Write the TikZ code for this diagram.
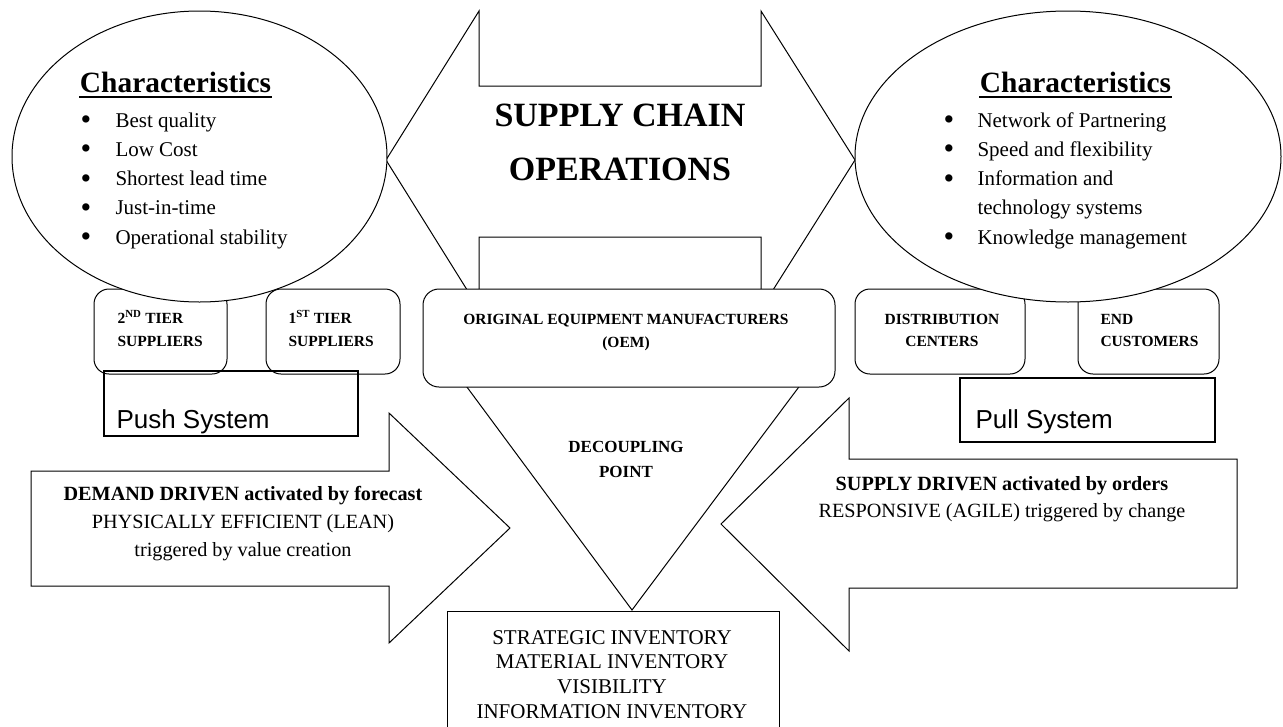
\documentclass[tikz,border=0pt]{standalone}
\usepackage{fontspec}
\setmainfont{Liberation Serif}
\newfontfamily\arialfont{Liberation Sans}
\usetikzlibrary{shapes.geometric}
\newcommand{\mybul}{\raisebox{-2.6pt}{\scalebox{1.45}{\textbullet}}}
\begin{document}
\begin{tikzpicture}[x=1pt,y=-1pt,
  line width=1pt,
  shapefill/.style={draw, fill=white, line join=miter},
  rbox/.style={draw, fill=white, rounded corners=15pt, inner sep=0pt, minimum height=85pt},
  sysbox/.style={draw, line width=2.8pt, inner sep=0pt},
  oval/.style={draw, fill=white, ellipse, inner sep=0pt, minimum height=291pt},
  txt/.style={inner sep=0pt, anchor=base},
  txtl/.style={inner sep=0pt, anchor=base west},
  uline/.style={line width=2pt},
  ]
\useasboundingbox (0,0) rectangle (1283,726);
\clip (0,0) rectangle (1283,726);

% top double arrow
\draw[shapefill] (386,160) -- (479,11) -- (479,86) -- (761,86) -- (761,11) -- (855,160)
  -- (761,309) -- (761,237) -- (479,237) -- (479,309) -- cycle;
% decoupling triangle
\draw[shapefill] (441,352) -- (825,352) -- (632,610) -- cycle;
% left (push) arrow
\draw[shapefill] (31,471) -- (389,471) -- (389,413) -- (510,528) -- (389,643) -- (389,586) -- (31,586) -- cycle;
% right (pull) arrow
\draw[shapefill] (1237,459) -- (849,459) -- (849,398) -- (721,524) -- (849,651) -- (849,588) -- (1237,588) -- cycle;

% small boxes
\node[rbox, minimum width=133pt] (t2) at (160.5,331.5) {};
\node[rbox, minimum width=134pt] (t1) at (333,331.5) {};
\node[rbox, minimum width=170pt] (dc) at (940,331.5) {};
\node[rbox, minimum width=141pt] (ec) at (1148.5,331.5) {};

% ellipses
\node[oval, minimum width=375pt] (le) at (199.5,156.5) {};
\node[oval, minimum width=426pt] (re) at (1068,156.5) {};

% OEM box
\node[rbox, rounded corners=16pt, minimum width=412pt, minimum height=98pt] (oem) at (629,338) {};

% push / pull boxes
\node[sysbox, minimum width=254pt, minimum height=65pt] (push) at (231,403.5) {};
\node[sysbox, minimum width=255pt, minimum height=64pt] (pull) at (1087.5,410) {};

% inventory box
\node[draw, fill=white, inner sep=0pt, minimum width=332pt, minimum height=149pt] (inv) at (613,685.5) {};

% texts
\node[txt, font=\bfseries\fontsize{29.4}{35}\selectfont] (lh) at (175.5,92) {Characteristics};
\node[txt, font=\bfseries\fontsize{29.4}{35}\selectfont] (rh) at (1075.5,92) {Characteristics};
\draw[uline] ([yshift=-5pt]lh.base west) -- ([yshift=-5pt]lh.base east);
\draw[uline] ([yshift=-5pt]rh.base west) -- ([yshift=-5pt]rh.base east);

\node[txtl, font=\fontsize{21}{29.25}\selectfont] (ll) at (80,127) {\begin{tabular}[t]{@{}l@{}l@{}}
\makebox[35pt][l]{\mybul} & Best quality\\
\makebox[35pt][l]{\mybul} & Low Cost\\
\makebox[35pt][l]{\mybul} & Shortest lead time\\
\makebox[35pt][l]{\mybul} & Just-in-time\\
\makebox[35pt][l]{\mybul} & Operational stability
\end{tabular}};
\node[txtl, font=\fontsize{21}{29.25}\selectfont] (rl) at (943,127) {\begin{tabular}[t]{@{}l@{}l@{}}
\makebox[34pt][l]{\mybul} & Network of Partnering\\
\makebox[34pt][l]{\mybul} & Speed and flexibility\\
\makebox[34pt][l]{\mybul} & Information and\\
 & technology systems\\
\makebox[34pt][l]{\mybul} & Knowledge management
\end{tabular}};

\node[txt, font=\bfseries\fontsize{34}{54}\selectfont] (sc) at (620,126) {\begin{tabular}[t]{@{}c@{}}SUPPLY CHAIN\\OPERATIONS\end{tabular}};

\node[txt, font=\bfseries\fontsize{15.5}{23}\selectfont] (oemt) at (626,324) {\begin{tabular}[t]{@{}c@{}}ORIGINAL EQUIPMENT MANUFACTURERS\\(OEM)\end{tabular}};
\node[txtl, font=\bfseries\fontsize{15.5}{23}\selectfont] (t2t) at (117,323) {\begin{tabular}[t]{@{}l@{}}2\textsuperscript{ND} TIER\\SUPPLIERS\end{tabular}};
\node[txtl, font=\bfseries\fontsize{15.5}{23}\selectfont] (t1t) at (288,323) {\begin{tabular}[t]{@{}l@{}}1\textsuperscript{ST} TIER\\SUPPLIERS\end{tabular}};
\node[txt, font=\bfseries\fontsize{15.5}{22}\selectfont] (dct) at (942,324) {\begin{tabular}[t]{@{}c@{}}DISTRIBUTION\\CENTERS\end{tabular}};
\node[txtl, font=\bfseries\fontsize{15.5}{22}\selectfont] (ect) at (1100,324) {\begin{tabular}[t]{@{}l@{}}END\\CUSTOMERS\end{tabular}};
\node[txt, font=\bfseries\fontsize{17}{25}\selectfont] (dp) at (626,452) {\begin{tabular}[t]{@{}c@{}}DECOUPLING\\POINT\end{tabular}};

\node[txtl, font=\arialfont\fontsize{26}{30}\selectfont] (pusht) at (116,428) {Push System};
\node[txtl, font=\arialfont\fontsize{26}{30}\selectfont] (pullt) at (975,428) {Pull System};

\node[txt, font=\fontsize{20.2}{28}\selectfont] (lat) at (243,500.5) {\begin{tabular}[t]{@{}c@{}}\textbf{DEMAND DRIVEN activated by forecast}\\PHYSICALLY EFFICIENT (LEAN)\\triggered by value creation\end{tabular}};
\node[txt, font=\fontsize{20.2}{27}\selectfont] (rat) at (1002,490.5) {\begin{tabular}[t]{@{}c@{}}\textbf{SUPPLY DRIVEN activated by orders}\\RESPONSIVE (AGILE) triggered by change\end{tabular}};

\node[txt, font=\fontsize{21}{24.67}\selectfont] (invt) at (612,644) {\begin{tabular}[t]{@{}c@{}}STRATEGIC INVENTORY\\MATERIAL INVENTORY\\VISIBILITY\\INFORMATION INVENTORY\end{tabular}};
\end{tikzpicture}
\end{document}
